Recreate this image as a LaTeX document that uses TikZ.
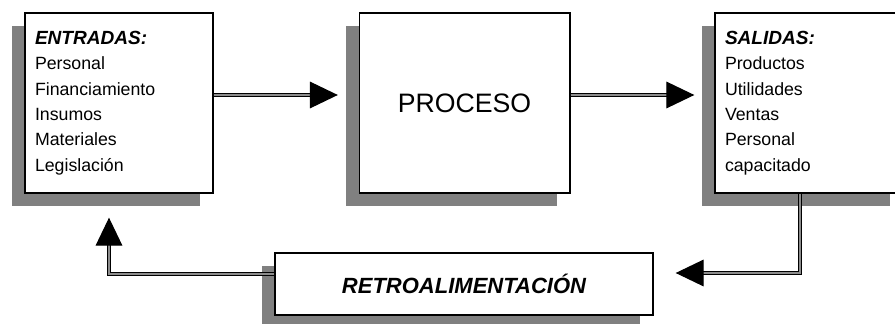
\documentclass[tikz,border=0pt]{standalone}
\usepackage{fontspec}
\setmainfont{Liberation Sans}
\usetikzlibrary{arrows.meta,shadows}

\begin{document}
\begin{tikzpicture}[
    x=0.75pt, y=-0.75pt,
    block/.style={rectangle, draw, line width=1pt, fill=white, inner sep=0pt,
        drop shadow={shadow xshift=-9.75pt, shadow yshift=-9.75pt, fill=black!50, opacity=1}},
    listbox/.style={block, minimum width=141pt, minimum height=135pt, align=left,
        text width=126pt, inner xsep=7.5pt, font=\fontsize{13.3}{19}\selectfont},
    link/.style={double=black!45, double distance=1.2pt, line width=0.9pt,
        -{Triangle[length=21pt, width=20pt]}}
]
    \clip (0,0) rectangle (895,324);

    \node[listbox] (ENT) at (119,103) {{\fontsize{14.3}{19}\selectfont\textbf{\textit{ENTRADAS:}}}\\Personal\\Financiamiento\\Insumos\\Materiales\\Legislación};
    \node[block, minimum width=158pt, minimum height=135pt, font=\fontsize{20}{24}\selectfont] (PRO) at (464.5,103) {PROCESO};
    \node[listbox] (SAL) at (809,103) {{\fontsize{14.3}{19}\selectfont\textbf{\textit{SALIDAS:}}}\\Productos\\Utilidades\\Ventas\\Personal\\capacitado};
    \node[block, minimum width=283.5pt, minimum height=46.5pt, font=\fontsize{16.5}{20}\selectfont\bfseries\itshape] (RET) at (464,284) {RETROALIMENTACIÓN};

    \draw[link, shorten >=15.5pt] ([yshift=6pt]ENT.east) -- ([yshift=6pt]PRO.west);
    \draw[link, shorten >=15pt] ([yshift=6pt]PRO.east) -- ([yshift=6pt]SAL.west);
    \draw[link] ([xshift=-6.75pt]SAL.south) |- ([xshift=16.5pt, yshift=8.25pt]RET.east);
    \draw[link] ([yshift=7.5pt]RET.west) -| ([xshift=-7.5pt, yshift=-18pt]ENT.south);
\end{tikzpicture}
\end{document}
